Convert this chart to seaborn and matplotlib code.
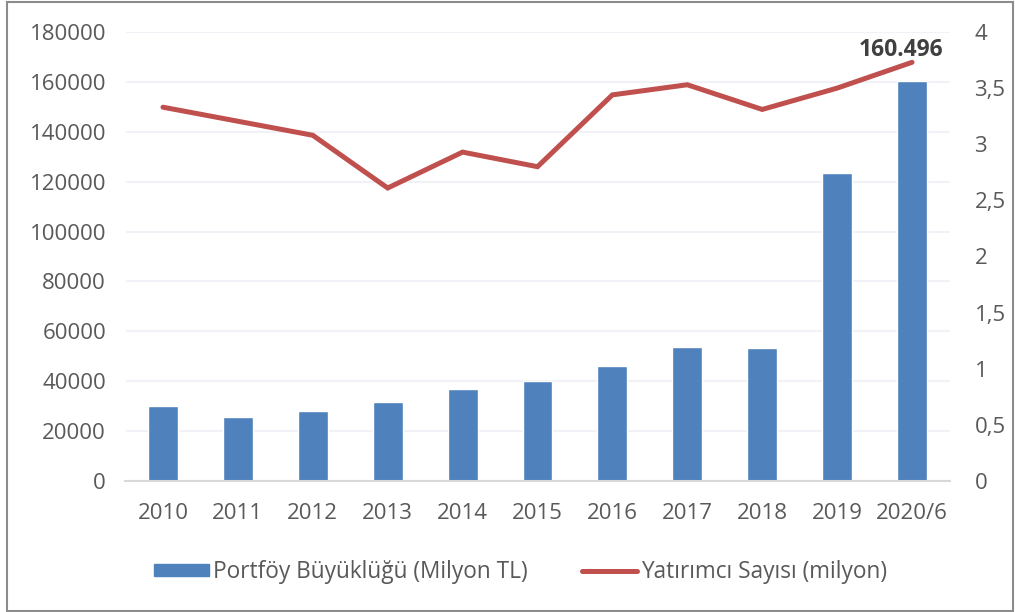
import numpy as np
import pandas as pd
import matplotlib
matplotlib.use("Agg")
import matplotlib.pyplot as plt
import seaborn as sns
from matplotlib.patches import Patch, Rectangle
from matplotlib.lines import Line2D

# veriler
yillar = ["2010", "2011", "2012", "2013", "2014", "2015",
          "2016", "2017", "2018", "2019", "2020/6"]
portfoy = [29900, 25500, 28200, 31500, 36900, 40200,
           46200, 53800, 53300, 123300, 160496]
yatirimci = [3.33, 3.205, 3.08, 2.61, 2.93, 2.80,
             3.44, 3.53, 3.31, 3.50, 3.73]

sol_tikler = list(range(0, 180001, 20000))
sag_tikler = [0, 0.5, 1, 1.5, 2, 2.5, 3, 3.5, 4]
sag_etiketler = ["0", "0,5", "1", "1,5", "2", "2,5", "3", "3,5", "4"]

mavi = "#4F81BD"
kirmizi = "#C0504D"
gri_yazi = "#595959"

sns.set_style("white")
plt.rcParams["font.family"] = ["Open Sans", "DejaVu Sans"]

fig = plt.figure(figsize=(10.15, 6.12), dpi=100)
W, H = 1015, 612
ax = fig.add_axes([125.5 / W, 1 - 481 / H, 824 / W, 449 / H])
ax2 = ax.twinx()

# sütunlar
df = pd.DataFrame({"yil": yillar, "portfoy": portfoy, "yatirimci": yatirimci})
sns.barplot(data=df, x="yil", y="portfoy", ax=ax, color=mavi,
            saturation=1, width=0.4, zorder=2)

# çizgi
sns.lineplot(data=df, x="yil", y="yatirimci", ax=ax2, color=kirmizi,
             linewidth=3.6, sort=False, solid_capstyle="round",
             solid_joinstyle="miter", legend=False)

ax.set_ylim(0, 180000)
ax.set_yticks(sol_tikler)
ax.set_yticklabels([str(t) for t in sol_tikler])
ax2.set_ylim(0, 4)
ax2.set_yticks(sag_tikler)
ax2.set_yticklabels(sag_etiketler)
ax.set_xlim(-0.5, len(yillar) - 0.5)

ax.set_xlabel("")
ax.set_ylabel("")
ax2.set_ylabel("")

ax.grid(axis="y", color="#F0F2F7", linewidth=1.5, zorder=0)
ax.set_axisbelow(True)
for s in ["top", "left", "right"]:
    ax.spines[s].set_visible(False)
    ax2.spines[s].set_visible(False)
ax.spines["bottom"].set_color("#D9D9D9")
ax.spines["bottom"].set_linewidth(1.5)
ax2.spines["bottom"].set_visible(False)

ax.tick_params(axis="both", length=0, labelsize=16, labelcolor=gri_yazi)
ax.tick_params(axis="y", pad=14)
ax.tick_params(axis="x", pad=16)
ax2.tick_params(axis="y", length=0, labelsize=16, labelcolor=gri_yazi, pad=18)

# son sütun etiketi
ax.annotate("160.496", xy=(10, portfoy[-1]), xytext=(-11, 31),
            textcoords="offset pixels", ha="center", va="center",
            fontsize=16.5, fontweight="bold", color="#404040")

# lejant
tutamaklar = [Patch(facecolor=mavi, edgecolor=mavi),
              Line2D([0], [0], color=kirmizi, linewidth=3.6,
                     solid_capstyle="round")]
fig.legend(tutamaklar, ["Portföy Büyüklüğü (Milyon TL)",
                        "Yatırımcı Sayısı (milyon)"],
           loc="center", bbox_to_anchor=(0.513, 1 - 572 / H), ncol=2,
           frameon=False, fontsize=16.3, labelcolor=gri_yazi,
           handlelength=2.4, handleheight=0.45, handletextpad=0.2,
           columnspacing=2.4)

# dış çerçeve
fig.patches.append(Rectangle((7 / W, 1 / H), 1006 / W, 609 / H,
                             transform=fig.transFigure, fill=False,
                             edgecolor="#8C8C8C", linewidth=1.5))

fig.savefig("out.png", dpi=100)
